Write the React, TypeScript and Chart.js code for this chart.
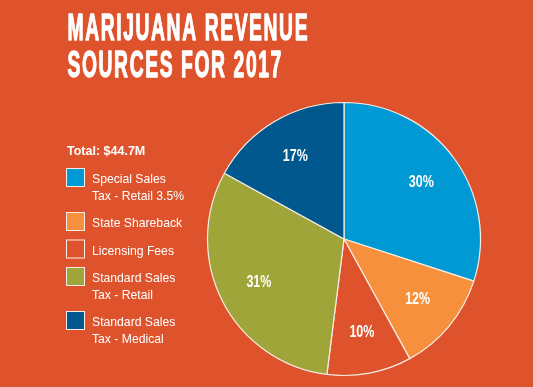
import React, { useEffect, useRef } from "react";
import { Chart, registerables } from "chart.js";

Chart.register(...registerables);

const TITLE_LINES = ["MARIJUANA REVENUE", "SOURCES FOR 2017"];
const TOTAL_LABEL = "Total: $44.7M";
const CATEGORIES: string[][] = [
  ["Special Sales", "Tax - Retail 3.5%"],
  ["State Shareback"],
  ["Licensing Fees"],
  ["Standard Sales", "Tax - Retail"],
  ["Standard Sales", "Tax - Medical"],
];
const SHARES = [30, 12, 10, 31, 17];
const COLORS = ["#0099D3", "#F7903D", "#DF532C", "#A0A53A", "#00588F"];
const BG = "#DE532C";
const EDGE = "#F6EEE6";

const CONDENSED = '"Liberation Sans Narrow", "Liberation Sans", Arial, sans-serif';
const SANS = '"Liberation Sans", Arial, sans-serif';

const decor = {
  id: "decor",
  beforeDraw(chart: any) {
    const ctx = chart.ctx;
    ctx.save();
    ctx.fillStyle = BG;
    ctx.fillRect(0, 0, chart.width, chart.height);
    ctx.restore();
  },
  afterDraw(chart: any) {
    const ctx: any = chart.ctx;
    ctx.save();
    ctx.fillStyle = "#ffffff";
    ctx.strokeStyle = "#ffffff";
    ctx.textAlign = "left";
    ctx.textBaseline = "alphabetic";

    // Title (condensed, tracked)
    ctx.font = `bold 36px ${CONDENSED}`;
    ctx.letterSpacing = "3px";
    const w1 = ctx.measureText(TITLE_LINES[0]).width - 3;
    const s = 240 / w1;
    const baselines = [40, 77];
    TITLE_LINES.forEach((line, i) => {
      ctx.save();
      ctx.translate(67.5, baselines[i]);
      ctx.scale(s, 1);
      ctx.lineWidth = 1.3;
      ctx.lineJoin = "round";
      ctx.fillText(line, 0, 0);
      ctx.strokeText(line, 0, 0);
      ctx.restore();
    });
    ctx.letterSpacing = "0px";

    // Total label
    ctx.font = `bold 12.5px ${SANS}`;
    ctx.fillText(TOTAL_LABEL, 67, 155);

    // Legend
    let top = 168;
    const lineH = 16.5;
    CATEGORIES.forEach((lines, i) => {
      ctx.fillStyle = COLORS[i];
      ctx.fillRect(66.5, top + 0.5, 18, 18);
      ctx.strokeStyle = EDGE;
      ctx.lineWidth = 1;
      ctx.strokeRect(66.5, top + 0.5, 18, 18);
      ctx.fillStyle = "#ffffff";
      ctx.font = `12.2px ${SANS}`;
      lines.forEach((t, j) => {
        ctx.fillText(t, 92, top + 15 + j * lineH);
      });
      top += 27.5 + (lines.length - 1) * lineH;
    });
    ctx.restore();
  },
  afterDatasetsDraw(chart: any) {
    const ctx: CanvasRenderingContext2D = chart.ctx;
    const meta = chart.getDatasetMeta(0);
    ctx.save();
    ctx.fillStyle = "#ffffff";
    ctx.textAlign = "center";
    ctx.textBaseline = "middle";
    ctx.font = `bold 16px ${CONDENSED}`;
    meta.data.forEach((arc: any, i: number) => {
      const p = arc.getProps(["x", "y", "startAngle", "endAngle", "outerRadius"], true);
      const mid = (p.startAngle + p.endAngle) / 2;
      const r = p.outerRadius * 0.7;
      const tx = p.x + Math.cos(mid) * r;
      const ty = p.y + Math.sin(mid) * r;
      const label = `${SHARES[i]}%`;
      ctx.save();
      ctx.translate(tx, ty);
      ctx.scale(0.78, 1);
      ctx.fillText(label, 0, 0);
      ctx.restore();
    });
    ctx.restore();
  },
};

export default function App() {
  const canvasRef = useRef<HTMLCanvasElement | null>(null);

  useEffect(() => {
    if (!canvasRef.current) return;
    const chart = new Chart(canvasRef.current, {
      type: "pie",
      data: {
        labels: CATEGORIES,
        datasets: [
          {
            data: SHARES,
            backgroundColor: COLORS,
            borderColor: EDGE,
            borderWidth: 1.2,
          },
        ],
      },
      options: {
        responsive: false,
        animation: false,
        radius: 136.5,
        layout: { padding: { left: 200, right: 45, top: 98, bottom: 7 } },
        plugins: {
          legend: { display: false },
          tooltip: { enabled: false },
          title: { display: false },
        },
      } as any,
      plugins: [decor],
    });
    return () => chart.destroy();
  }, []);

  return (
    <div style={{ position: "absolute", left: 0, top: 0, width: 533, height: 387 }}>
      <canvas ref={canvasRef} width={533} height={387} style={{ display: "block" }} />
    </div>
  );
}
